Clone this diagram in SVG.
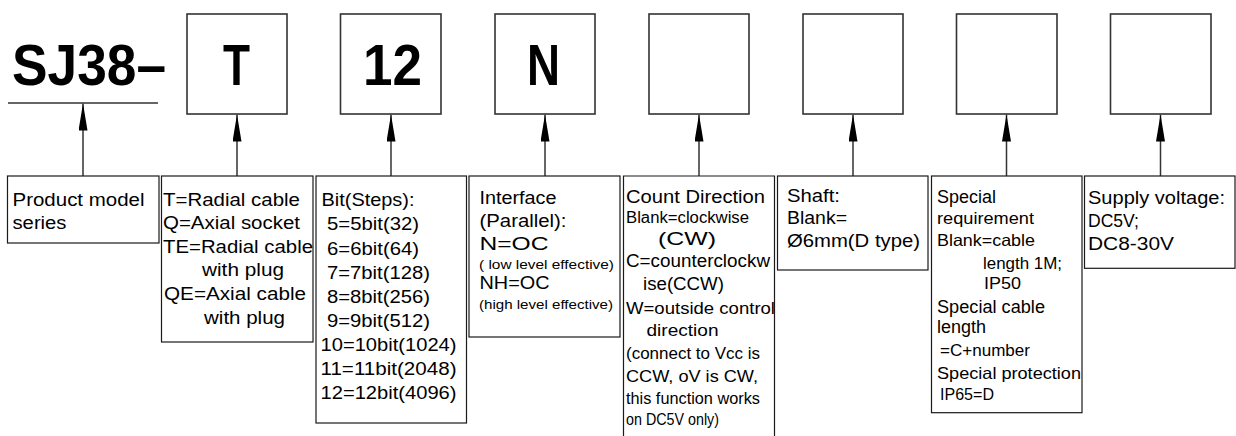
<svg xmlns="http://www.w3.org/2000/svg" width="1236" height="436" viewBox="0 0 1236 436">
<style>
.tb{fill:#fff;stroke:#333;stroke-width:1.6}
.bb{fill:#fff;stroke:#1a1a1a;stroke-width:1.2}
.ob{fill:none;stroke:#1a1a1a;stroke-width:1.2}
.cn{stroke:#333;stroke-width:1.5;fill:none;marker-end:url(#ah)}
text{font-family:"Liberation Sans",Arial,sans-serif;fill:#000}
.t{font-size:17.5px}
.m{font-size:16.5px}
.n{font-size:16px}
.s{font-size:13px}
.big{font-size:58px;font-weight:bold}
</style>
<defs>
<marker id="ah" markerUnits="userSpaceOnUse" markerWidth="27" markerHeight="10" refX="27" refY="4.5" orient="auto">
<path d="M0,0 L27,4.5 L0,9 z" fill="#000"/>
</marker>
</defs>
<rect width="1236" height="436" fill="#fff"/>

<g id="title">
<text class="big" x="12" y="85" font-size="60" textLength="154" lengthAdjust="spacingAndGlyphs">SJ38–</text>
<line x1="8" y1="103" x2="158" y2="103" stroke="#333" stroke-width="1.4"/>
</g>

<g id="code-T"><rect class="tb" x="187" y="14" width="100" height="100"/>
<text class="big" x="223" y="85" textLength="27" lengthAdjust="spacingAndGlyphs">T</text></g>
<g id="code-12"><rect class="tb" x="340.5" y="14" width="100.5" height="100"/>
<text class="big" x="363" y="85" textLength="59" lengthAdjust="spacingAndGlyphs">12</text></g>
<g id="code-N"><rect class="tb" x="495" y="14" width="100" height="100"/>
<text class="big" x="527" y="85" textLength="33" lengthAdjust="spacingAndGlyphs">N</text></g>
<g id="code-dir"><rect class="tb" x="649" y="14" width="100" height="100"/></g>
<g id="code-shaft"><rect class="tb" x="803" y="14" width="100" height="100"/></g>
<g id="code-special"><rect class="tb" x="956.5" y="14" width="100.5" height="100"/></g>
<g id="code-voltage"><rect class="tb" x="1110.5" y="14" width="100.5" height="100"/></g>

<g id="connectors">
<line class="cn" x1="83" y1="176" x2="83" y2="103.5"/>
<line class="cn" x1="237" y1="176" x2="237" y2="114.5"/>
<line class="cn" x1="391" y1="176" x2="391" y2="114.5"/>
<line class="cn" x1="545" y1="176" x2="545" y2="114.5"/>
<line class="cn" x1="699" y1="176" x2="699" y2="114.5"/>
<line class="cn" x1="853" y1="176" x2="853" y2="114.5"/>
<line class="cn" x1="1006.5" y1="176" x2="1006.5" y2="114.5"/>
<line class="cn" x1="1160.5" y1="176" x2="1160.5" y2="114.5"/>
</g>

<g id="desc-series">
<rect class="bb" x="7.5" y="176" width="151.5" height="67"/>
<text class="t" x="12.5" y="205.5" textLength="132" lengthAdjust="spacingAndGlyphs">Product model</text>
<text class="t" x="12.5" y="229" textLength="54" lengthAdjust="spacingAndGlyphs">series</text>
</g>

<g id="desc-outlet">
<rect class="bb" x="161.5" y="176" width="151.5" height="166"/>
<text class="t" x="163" y="205.5" textLength="137" lengthAdjust="spacingAndGlyphs">T=Radial cable</text>
<text class="t" x="163" y="229" textLength="137" lengthAdjust="spacingAndGlyphs">Q=Axial socket</text>
<text class="t" x="163" y="252.5" textLength="150" lengthAdjust="spacingAndGlyphs">TE=Radial cable</text>
<text class="t" x="202" y="276" textLength="82" lengthAdjust="spacingAndGlyphs">with plug</text>
<text class="t" x="164" y="300" textLength="142" lengthAdjust="spacingAndGlyphs">QE=Axial cable</text>
<text class="t" x="204" y="323.5" textLength="81" lengthAdjust="spacingAndGlyphs">with plug</text>
</g>

<g id="desc-bits">
<rect class="bb" x="316" y="176" width="150.5" height="247"/>
<text class="t" x="321.5" y="206" textLength="93" lengthAdjust="spacingAndGlyphs">Bit(Steps):</text>
<text class="t" x="327" y="230.3" textLength="92" lengthAdjust="spacingAndGlyphs">5=5bit(32)</text>
<text class="t" x="327" y="254.7" textLength="92" lengthAdjust="spacingAndGlyphs">6=6bit(64)</text>
<text class="t" x="327" y="278.7" textLength="103" lengthAdjust="spacingAndGlyphs">7=7bit(128)</text>
<text class="t" x="327" y="303" textLength="103" lengthAdjust="spacingAndGlyphs">8=8bit(256)</text>
<text class="t" x="327" y="326.7" textLength="103" lengthAdjust="spacingAndGlyphs">9=9bit(512)</text>
<text class="t" x="320.5" y="351" textLength="136" lengthAdjust="spacingAndGlyphs">10=10bit(1024)</text>
<text class="t" x="320.5" y="375" textLength="136" lengthAdjust="spacingAndGlyphs">11=11bit(2048)</text>
<text class="t" x="320.5" y="398.7" textLength="136" lengthAdjust="spacingAndGlyphs">12=12bit(4096)</text>
</g>

<g id="desc-interface">
<rect class="bb" x="469" y="176" width="151" height="161"/>
<text class="t" x="479.5" y="203.7" textLength="77" lengthAdjust="spacingAndGlyphs">Interface</text>
<text class="t" x="479.5" y="226.5" textLength="87" lengthAdjust="spacingAndGlyphs">(Parallel):</text>
<text class="t" x="479.5" y="250" textLength="69" lengthAdjust="spacingAndGlyphs">N=OC</text>
<text class="s" x="479" y="269.3" textLength="135" lengthAdjust="spacingAndGlyphs">( low level  effective)</text>
<text class="t" x="479.5" y="288.7" textLength="70" lengthAdjust="spacingAndGlyphs">NH=OC</text>
<text class="s" x="479" y="309.3" textLength="134" lengthAdjust="spacingAndGlyphs">(high level effective)</text>
</g>

<g id="desc-direction">
<path class="ob" d="M623.5,437 V176 H774.5 V437"/>
<text class="t" x="626" y="202.7" textLength="139" lengthAdjust="spacingAndGlyphs">Count Direction</text>
<text class="n" x="626" y="223.3" textLength="123" lengthAdjust="spacingAndGlyphs">Blank=clockwise</text>
<text class="t" x="658" y="245" textLength="58" lengthAdjust="spacingAndGlyphs">(CW)</text>
<text class="t" x="626" y="267" textLength="144" lengthAdjust="spacingAndGlyphs">C=counterclockw</text>
<text class="t" x="643" y="290" textLength="81" lengthAdjust="spacingAndGlyphs">ise(CCW)</text>
<text class="m" x="626" y="314" textLength="149" lengthAdjust="spacingAndGlyphs">W=outside control</text>
<text class="m" x="646.5" y="336" textLength="72" lengthAdjust="spacingAndGlyphs">direction</text>
<text class="m" x="626" y="358.5" textLength="134" lengthAdjust="spacingAndGlyphs">(connect to Vcc is</text>
<text class="m" x="626" y="381.5" textLength="132" lengthAdjust="spacingAndGlyphs">CCW, oV is CW,</text>
<text class="m" x="626" y="403.5" textLength="134" lengthAdjust="spacingAndGlyphs">this function works</text>
<text class="m" x="626" y="425.2" textLength="93" lengthAdjust="spacingAndGlyphs">on DC5V only)</text>
</g>

<g id="desc-shaft">
<rect class="bb" x="777.5" y="176" width="150.5" height="94"/>
<text class="t" x="787" y="202" textLength="53" lengthAdjust="spacingAndGlyphs">Shaft:</text>
<text class="t" x="787" y="224.3" textLength="60" lengthAdjust="spacingAndGlyphs">Blank=</text>
<text class="t" x="787" y="247" textLength="133" lengthAdjust="spacingAndGlyphs">Ø6mm(D type)</text>
</g>

<g id="desc-special">
<rect class="bb" x="931.5" y="176" width="150.5" height="236.7"/>
<text class="t" x="937" y="203.3" textLength="59" lengthAdjust="spacingAndGlyphs">Special</text>
<text class="m" x="937" y="224.3" textLength="97" lengthAdjust="spacingAndGlyphs">requirement</text>
<text class="m" x="937" y="246" textLength="98" lengthAdjust="spacingAndGlyphs">Blank=cable</text>
<text class="m" x="983" y="268.7" textLength="79" lengthAdjust="spacingAndGlyphs">length 1M;</text>
<text class="m" x="984" y="289.3" textLength="37" lengthAdjust="spacingAndGlyphs">IP50</text>
<text class="t" x="937" y="312.7" textLength="108" lengthAdjust="spacingAndGlyphs">Special cable</text>
<text class="t" x="937" y="333.3" textLength="49" lengthAdjust="spacingAndGlyphs">length</text>
<text class="m" x="940" y="356" textLength="90" lengthAdjust="spacingAndGlyphs">=C+number</text>
<text class="m" x="937" y="379.3" textLength="144" lengthAdjust="spacingAndGlyphs">Special protection</text>
<text class="m" x="940" y="400" textLength="54" lengthAdjust="spacingAndGlyphs">IP65=D</text>
</g>

<g id="desc-voltage">
<rect class="bb" x="1084.5" y="176" width="150.5" height="92.3"/>
<text class="t" x="1088" y="204" textLength="137" lengthAdjust="spacingAndGlyphs">Supply voltage:</text>
<text class="t" x="1088" y="227" textLength="51" lengthAdjust="spacingAndGlyphs">DC5V;</text>
<text class="t" x="1088" y="250" textLength="86" lengthAdjust="spacingAndGlyphs">DC8-30V</text>
</g>
</svg>
